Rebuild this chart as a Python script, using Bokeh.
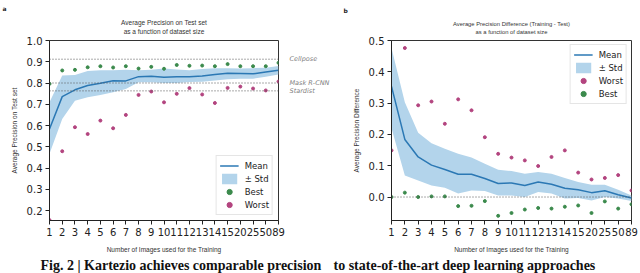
from bokeh.plotting import figure
from bokeh.layouts import row
from bokeh.models import (Span, Title, Legend, LegendItem, FixedTicker,
                          NumeralTickFormatter, ColumnDataSource, LinearAxis)
from bokeh.embed import file_html
from bokeh.resources import INLINE

# ---------------- data ----------------
sizes = ["1", "2", "3", "4", "5", "6", "7", "8", "9", "10", "11", "12", "13",
         "14", "15", "20", "25", "50", "89"]

# panel a : Average precision on test set
a_mean = [0.584, 0.736, 0.768, 0.788, 0.799, 0.811, 0.810, 0.830, 0.832,
          0.827, 0.829, 0.830, 0.833, 0.840, 0.846, 0.845, 0.843, 0.852, 0.860]
a_upper = [0.710, 0.835, 0.838, 0.857, 0.860, 0.860, 0.862, 0.860, 0.862,
           0.868, 0.864, 0.860, 0.866, 0.870, 0.870, 0.868, 0.870, 0.872, 0.880]
a_lower = [0.467, 0.631, 0.717, 0.733, 0.744, 0.757, 0.772, 0.804, 0.804,
           0.800, 0.800, 0.805, 0.806, 0.812, 0.818, 0.820, 0.820, 0.830, 0.840]
a_best = [0.796, 0.859, 0.862, 0.874, 0.879, 0.873, 0.879, 0.868, 0.876,
          0.867, 0.885, 0.881, 0.882, 0.879, 0.889, 0.879, 0.879, 0.879, 0.895]
a_worst = [0.155, 0.479, 0.592, 0.560, 0.623, 0.587, 0.650, 0.744, 0.760,
           0.709, 0.749, 0.776, 0.746, 0.706, 0.777, 0.783, 0.774, 0.765, 0.807]
ref_names = ["Cellpose", "Mask R-CNN", "Stardist"]
ref_values = [0.912, 0.800, 0.763]

# panel b : Average precision difference (training - test)
b_mean = [0.353, 0.184, 0.128, 0.102, 0.088, 0.073, 0.073, 0.059, 0.043,
          0.045, 0.037, 0.048, 0.041, 0.028, 0.023, 0.014, 0.020, 0.007, -0.003]
b_upper = [0.476, 0.303, 0.205, 0.172, 0.154, 0.138, 0.126, 0.106, 0.087,
           0.083, 0.074, 0.080, 0.074, 0.061, 0.048, 0.039, 0.039, 0.023, 0.005]
b_lower = [0.220, 0.069, 0.053, 0.037, 0.030, 0.011, 0.021, 0.019, 0.005,
           0.005, 0.000, 0.016, 0.011, -0.005, -0.003, -0.011, 0.000, -0.005, -0.013]
b_worst = [0.149, 0.476, 0.293, 0.305, 0.234, 0.312, 0.277, 0.191, 0.138,
           0.126, 0.117, 0.099, 0.128, 0.149, 0.078, 0.056, 0.061, 0.070, 0.021]
b_best = [0.000, 0.014, 0.000, 0.002, 0.002, -0.029, -0.028, -0.013, -0.060,
          -0.051, -0.040, -0.035, -0.037, -0.031, -0.027, -0.051, -0.014, -0.037, -0.023]

title_a = ["Average Precision on Test set", "as a function of dataset size"]
title_b = ["Average Precision Difference (Training - Test)",
           "as a function of dataset size"]
caption_left = "Fig. 2 | Kartezio achieves comparable precision"
caption_right = "to state-of-the-art deep learning approaches"

# ---------------- style ----------------
FONT = "DejaVu Sans"
SMALL_FONT = "Liberation Sans"
C_LINE = "#2b78b4"
C_BAND = "#b3d4eb"
C_BEST = "#3b8a4c"
C_WORST = "#b3447f"

idx = list(range(len(sizes)))
overrides = {i: s for i, s in enumerate(sizes)}


def make_fig(width, border_left, border_right, y_range, yticks, ylabel):
    p = figure(width=width, height=273, output_backend="svg",
               toolbar_location=None, x_range=(0, len(sizes) - 1),
               y_range=y_range, min_border_left=border_left,
               min_border_right=border_right, min_border_top=40,
               min_border_bottom=53)
    p.title.visible = False
    p.grid.visible = False
    p.outline_line_color = "#333333"
    p.outline_line_width = 1
    p.background_fill_color = "white"
    p.border_fill_color = "white"
    for ax in (p.xaxis[0], p.yaxis[0]):
        ax.major_tick_in = 0
        ax.major_tick_out = 4
        ax.minor_tick_line_color = None
        ax.axis_line_color = "#222222"
        ax.major_tick_line_color = "#222222"
        ax.major_label_text_font = FONT
        ax.major_label_text_font_size = "10px"
        ax.major_label_text_color = "#222222"
        ax.axis_label_text_font = SMALL_FONT
        ax.axis_label_text_font_size = "6.5px"
        ax.axis_label_text_font_style = "normal"
        ax.axis_label_text_color = "#333333"
    p.xaxis.ticker = FixedTicker(ticks=idx)
    p.xaxis.major_label_overrides = overrides
    p.xaxis.major_label_standoff = 3
    p.xaxis.axis_label = "Number of Images used for the Training"
    p.xaxis.axis_label_standoff = 7
    p.yaxis.ticker = FixedTicker(ticks=yticks)
    p.yaxis.formatter = NumeralTickFormatter(format="0.0")
    p.yaxis.major_label_standoff = 3
    p.yaxis.axis_label = ylabel
    p.yaxis.axis_label_standoff = 6
    return p


def add_titles(p, lines, size, panel, panel_dx, caption, caption_dx):
    # second title line: label of a tick-less axis right above the frame
    p.add_layout(LinearAxis(ticker=FixedTicker(ticks=[]), axis_label=lines[1],
                            axis_line_color=None, major_tick_line_color=None,
                            minor_tick_line_color=None,
                            axis_label_standoff=6,
                            axis_label_text_font=SMALL_FONT,
                            axis_label_text_font_size=size,
                            axis_label_text_font_style="normal",
                            axis_label_text_color="#333333"), "above")
    # first title line
    p.add_layout(Title(text=lines[0], align="center", text_font=SMALL_FONT,
                       text_font_size=size, text_font_style="normal",
                       text_color="#333333", standoff=-2), "above")
    # panel letter
    p.add_layout(Title(text=panel, align="left", offset=panel_dx,
                       vertical_align="top",
                       text_font=FONT, text_font_size="6px",
                       text_font_style="bold", text_color="#222222",
                       standoff=8), "above")
    # figure caption (split at the panel boundary)
    p.add_layout(Title(text=caption, align="left", offset=caption_dx,
                       text_font="Liberation Serif", text_font_size="14px",
                       text_font_style="bold", text_color="#111111",
                       standoff=0), "below")


def draw(p, mean, lower, upper, best, worst):
    src = ColumnDataSource(dict(x=idx, mean=mean, lower=lower, upper=upper,
                                best=best, worst=worst))
    band = p.varea(x="x", y1="lower", y2="upper", source=src,
                   fill_color=C_BAND, fill_alpha=1.0)
    line = p.line(x="x", y="mean", source=src, line_color=C_LINE,
                  line_width=1.5)
    b = p.scatter(x="x", y="best", source=src, size=3, color=C_BEST)
    w = p.scatter(x="x", y="worst", source=src, size=3, color=C_WORST)
    return band, line, b, w


def style_legend(lg):
    lg.label_text_font = FONT
    lg.label_text_font_size = "8.5px"
    lg.label_text_color = "#222222"
    lg.label_height = 13
    lg.glyph_height = 13
    lg.glyph_width = 19
    lg.spacing = 0
    lg.padding = 3
    lg.label_standoff = 6
    lg.border_line_color = "#cccccc"
    lg.border_line_width = 1
    lg.background_fill_alpha = 0.85


# ---------------- panel a ----------------
pa = make_fig(332, 49, 44, (0.153, 1.0),
              [0.2, 0.3, 0.4, 0.5, 0.6, 0.7, 0.8, 0.9, 1.0],
              "Average Precision on Test set")
band, line, bst, wst = draw(pa, a_mean, a_lower, a_upper, a_best, a_worst)
for v in ref_values:
    pa.add_layout(Span(location=v, dimension="width", line_color="#555555",
                       line_width=1, line_dash="1 2"))
ref_axis = LinearAxis(ticker=FixedTicker(ticks=ref_values),
                      major_label_overrides=dict(zip(ref_values, ref_names)),
                      axis_line_color=None, major_tick_line_color=None,
                      minor_tick_line_color=None, major_label_standoff=5,
                      major_label_text_font=FONT,
                      major_label_text_font_size="6.5px",
                      major_label_text_font_style="italic",
                      major_label_text_color="#808080")
pa.add_layout(ref_axis, "right")
add_titles(pa, title_a, "6.5px", "a", -47, caption_left, -9)
lga = Legend(items=[LegendItem(label="Mean", renderers=[line]),
                    LegendItem(label="\u00b1 Std", renderers=[band]),
                    LegendItem(label="Best", renderers=[bst]),
                    LegendItem(label="Worst", renderers=[wst])],
             location="bottom_right", margin=5)
style_legend(lga)
pa.add_layout(lga)

# ---------------- panel b ----------------
pb = make_fig(308, 59, 9, (-0.075, 0.5),
              [0.0, 0.1, 0.2, 0.3, 0.4, 0.5],
              "Average Precision Difference")
pb.add_layout(Span(location=0.0, dimension="width", line_color="#555555",
                   line_width=1, line_dash="1 2"))
band2, line2, bst2, wst2 = draw(pb, b_mean, b_lower, b_upper, b_best, b_worst)
add_titles(pb, title_b, "5.8px", "b", -48, caption_right, -58)
lgb = Legend(items=[LegendItem(label="Mean", renderers=[line2]),
                    LegendItem(label="\u00b1 Std", renderers=[band2]),
                    LegendItem(label="Worst", renderers=[wst2]),
                    LegendItem(label="Best", renderers=[bst2])],
             location="top_right", margin=4)
style_legend(lgb)
pb.add_layout(lgb)

layout = row(pa, pb)
open("out.html", "w").write(file_html(layout, INLINE))
